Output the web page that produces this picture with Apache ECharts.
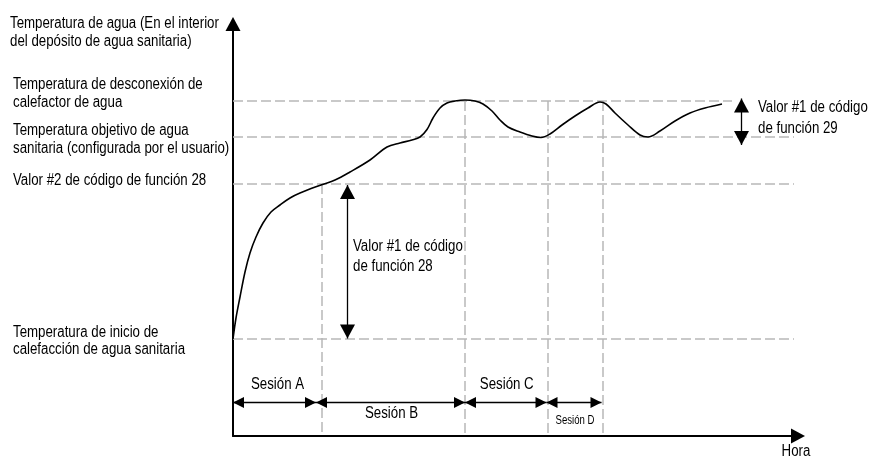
<!DOCTYPE html>
<html><head><meta charset="utf-8">
<script src="https://cdn.jsdelivr.net/npm/echarts@6.0.0/dist/echarts.min.js"></script>
<style>html,body{margin:0;padding:0;background:#fff}#c{width:869px;height:460px}</style>
</head><body><div id="c"></div>
<script>
// ---- data ----
const timeMin = [0, 0.6, 1.4, 2.4, 3.4, 4.6, 6.0, 7.6, 9.4, 11.4, 13.4, 17.6, 20.4, 23.4, 27.4, 30.8, 33.4, 35.8, 37.4, 38.8, 40.0, 41.4, 42.8, 44.4, 46.4, 48.4, 50.0, 51.8, 53.4, 55.0, 57.4, 59.8, 61.6, 63.4, 65.8, 68.4, 71.0, 73.4, 74.6, 76.4, 79.0, 81.4, 83.0, 85.4, 88.4, 91.4, 94.4, 97.8];
const waterTemp = [19.4, 23.6, 27.8, 32.8, 36.6, 39.8, 42.6, 44.8, 46.2, 47.6, 48.6, 50.2, 51.2, 52.8, 55.2, 57.8, 58.6, 59.2, 59.8, 61.3, 63.6, 65.6, 66.6, 67.0, 67.2, 67.0, 66.4, 65.0, 63.2, 61.8, 60.8, 60.0, 59.7, 60.4, 62.2, 64.0, 65.6, 66.8, 66.4, 64.6, 62.2, 60.2, 59.8, 61.0, 63.0, 64.6, 65.6, 66.4];
const levelTemps = [19.4, 50.4, 59.8, 67.0];
const levelEnds = [112.2, 112.2, 112.2, 99.8];
const dividerTimes = [17.7, 46.4, 62.9, 73.9];
const dividerTops = [50.4, 67.0, 67.0, 67.0];
const sessionNames = ['Sesión A', 'Sesión B', 'Sesión C', 'Sesión D'];
const sessionBounds = [0, 16.6, 46.4, 62.7, 73.7];
const sessionArrowTemp = 6.7;
const fc28Time = 22.9, fc28Span = [50.2, 19.5];
const fc29Time = 101.7, fc29Span = [67.5, 58.2];
const yAxisTitle = ['Temperatura de agua (En el interior', 'del depósito de agua sanitaria)'];
const levelLabels = [
  ['Temperatura de inicio de', 'calefacción de agua sanitaria'],
  ['Valor #2 de código de función 28'],
  ['Temperatura objetivo de agua', 'sanitaria (configurada por el usuario)'],
  ['Temperatura de desconexión de', 'calefactor de agua']
];
const fc28Label = ['Valor #1 de código', 'de función 28'];
const fc29Label = ['Valor #1 de código', 'de función 29'];
const xAxisTitle = 'Hora';

// ---- chart ----
const FONT = '"Liberation Sans",Arial,sans-serif';
const NARROW = 0.83;
const dash = { color: '#b8b8b8', width: 1.5, type: [10, 4] };
const chart = echarts.init(document.getElementById('c'), null, { renderer: 'canvas' });

const refLines = levelTemps.map((t, i) => [{ coord: [0, t] }, { coord: [levelEnds[i], t] }])
  .concat(dividerTimes.map((x, i) => [{ coord: [x, dividerTops[i]] }, { coord: [x, 0] }]));

const sessionLines = sessionNames.map((n, i) => [
  { coord: [sessionBounds[i], sessionArrowTemp] },
  { coord: [sessionBounds[i + 1], sessionArrowTemp] }
]);

const axisCommon = {
  type: 'value', min: 0,
  axisTick: { show: false }, axisLabel: { show: false }, splitLine: { show: false },
  axisLine: { show: true, onZero: false, symbol: ['none', 'triangle'], symbolSize: [15, 14],
              lineStyle: { color: '#000', width: 2 } }
};

chart.setOption({
  animation: false,
  grid: { left: 233, right: 71, top: 24, bottom: 24 },
  xAxis: Object.assign({}, axisCommon, { max: 113 }),
  yAxis: Object.assign({}, axisCommon, { max: 82.4 }),
  series: [
    { type: 'line', data: [], silent: true,
      markLine: { silent: true, symbol: 'none', label: { show: false }, lineStyle: dash,
                  emphasis: { disabled: true }, data: refLines } },
    { type: 'line', z: 5, data: timeMin.map((t, i) => [t, waterTemp[i]]), smooth: 0.35,
      symbol: 'none', lineStyle: { color: '#000', width: 1.6 }, silent: true },
    { type: 'line', data: [], silent: true,
      markLine: { silent: true, symbol: ['triangle', 'triangle'], symbolSize: [15, 14],
                  symbolOffset: [[0, 7], [0, 7]], label: { show: false },
                  lineStyle: { color: '#000', width: 1.3, type: 'solid' },
                  emphasis: { disabled: true },
                  data: [
                    [{ coord: [fc28Time, fc28Span[0]] }, { coord: [fc28Time, fc28Span[1]] }],
                    [{ coord: [fc29Time, fc29Span[0]] }, { coord: [fc29Time, fc29Span[1]] }]
                  ] } },
    { type: 'line', data: [], silent: true,
      markLine: { silent: true, symbol: ['triangle', 'triangle'], symbolSize: [11, 11],
                  symbolOffset: [[0, 5.5], [0, 5.5]], label: { show: false },
                  lineStyle: { color: '#000', width: 1.3, type: 'solid' },
                  emphasis: { disabled: true },
                  data: sessionLines } }
  ]
});

// ---- annotation texts ----
function textEl(str, x, y, opts) {
  opts = opts || {};
  return { type: 'text', x: x, y: y, silent: true, scaleX: opts.scaleX || NARROW,
    style: { text: str, fill: '#000', fontSize: opts.fontSize || 16, fontFamily: FONT,
      align: opts.align || 'left', verticalAlign: 'middle' } };
}
const graphics = [];
const yTitlePos = [[10, 23.5], [10, 42]];
yAxisTitle.forEach((s, i) => graphics.push(textEl(s, yTitlePos[i][0], yTitlePos[i][1])));
const levelLabelY = [[332.5, 350], [180.5], [130.5, 149], [84.5, 102.5]];
levelLabels.forEach((lines, i) => lines.forEach((s, j) => graphics.push(textEl(s, 13, levelLabelY[i][j]))));
graphics.push(textEl(fc28Label[0], 353, 247), textEl(fc28Label[1], 353, 267));
graphics.push(textEl(fc29Label[0], 758, 107.5), textEl(fc29Label[1], 758, 128.5));
graphics.push(textEl(xAxisTitle, 796, 452, { align: 'center' }));
// session labels placed from the data through the grid's scales
const sessionDy = [-18, 11, -18, 18];
sessionNames.forEach((n, i) => {
  const mid = (sessionBounds[i] + sessionBounds[i + 1]) / 2;
  const p = chart.convertToPixel({ gridIndex: 0 }, [mid, sessionArrowTemp]);
  const small = i === 3;
  graphics.push(textEl(n, p[0] + (i === 0 ? 3 : 1), p[1] + sessionDy[i],
    { align: 'center', fontSize: small ? 12 : 16, scaleX: small ? 0.8 : NARROW }));
});
chart.setOption({ graphic: graphics });
</script></body></html>
